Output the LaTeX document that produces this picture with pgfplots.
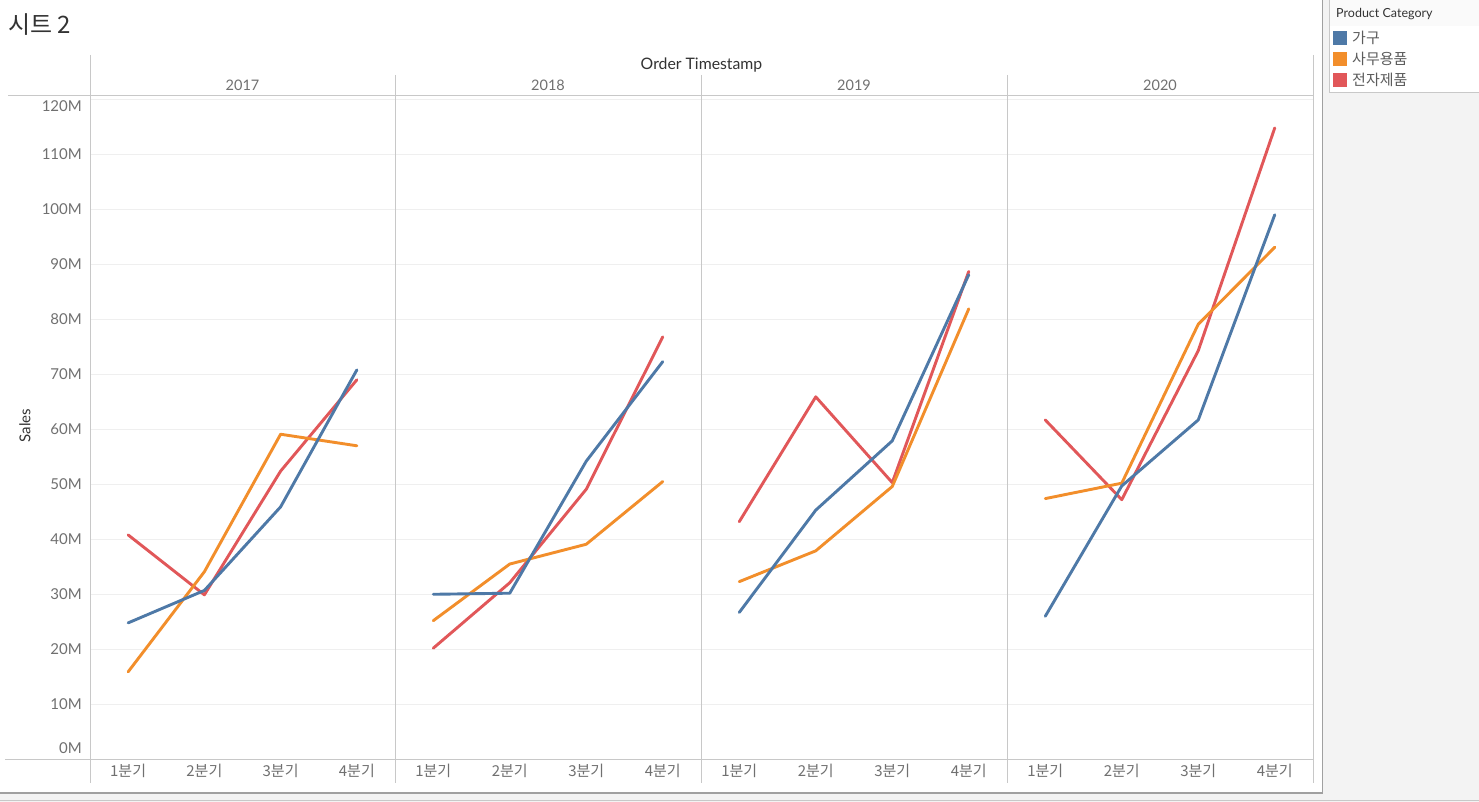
\documentclass[border=0pt]{standalone}
\usepackage{pgfplots}
\pgfplotsset{compat=1.18}
\usepackage{pgfplotstable}
\usepackage{fontspec}
\setmainfont{Lato}[Numbers=Monospaced]
\newfontfamily\kr{Noto Sans CJK KR}
\definecolor{cfurn}{HTML}{4E79A7}
\definecolor{coff}{HTML}{F28E2B}
\definecolor{celec}{HTML}{E15759}
\definecolor{gridc}{HTML}{EFEFEF}
\definecolor{linec}{HTML}{C8C8C8}
\definecolor{tickc}{HTML}{707070}
\definecolor{darkc}{HTML}{333333}
\definecolor{bgc}{HTML}{F3F3F3}
\definecolor{legbg}{HTML}{FAFAFA}

% Sales in millions, x = quarter position
\pgfplotstableread{
q furn office elec
0.5 24.8 15.9 40.8
1.5 30.7 34.1 29.9
2.5 45.9 59.1 52.4
3.5 70.8 57.0 69.0
}\tA
\pgfplotstableread{
q furn office elec
0.5 30.0 25.2 20.2
1.5 30.2 35.5 32.1
2.5 54.2 39.1 49.1
3.5 72.3 50.5 76.8
}\tB
\pgfplotstableread{
q furn office elec
0.5 26.7 32.3 43.2
1.5 45.3 37.9 65.9
2.5 57.9 49.6 50.3
3.5 88.1 81.9 88.7
}\tC
\pgfplotstableread{
q furn office elec
0.5 26.0 47.4 61.7
1.5 49.7 50.2 47.2
2.5 61.7 79.1 74.3
3.5 99.0 93.1 114.8
}\tD

\pgfplotsset{
  panel/.style={
    scale only axis, height=660pt, width=306pt,
    anchor=south west,
    xmin=0, xmax=4, ymin=0, ymax=120,
    axis line style={draw=none},
    ytick={0,10,...,120},
    yticklabels={},
    ymajorgrids,
    major grid style={draw=gridc, line width=0.9pt},
    xtick={0.5,1.5,2.5,3.5},
    xticklabels={1분기,2분기,3분기,4분기},
    xticklabel style={font=\kr\fontsize{15}{17}\selectfont, text=tickc, anchor=center, yshift=-12pt},
    tick style={draw=none},
    clip=false,
  },
  sline/.style={line width=2.9pt, line join=round, line cap=round},
}

\begin{document}
\begin{tikzpicture}[x=1pt,y=1pt]
\path[use as bounding box] (0,0) rectangle (1479,802);
\fill[bgc] (0,0) rectangle (1479,802);
\fill[white] (0,9) rectangle (1322.5,802);
\draw[color=linec!80!black, line width=1.2pt] (1322.5,802) -- (1322.5,9) -- (0,9);
\draw[color=linec, line width=0.8pt] (0,2) -- (1479,2);

% legend
\fill[white] (1329.5,709.5) rectangle (1480,803);
\fill[legbg] (1330,776) rectangle (1480,803);
\draw[color=linec, line width=0.8pt] (1329.5,803) -- (1329.5,709.5) -- (1480,709.5);
\node[anchor=west, inner sep=0pt, text=darkc, font=\fontsize{12.5}{14}\selectfont] at (1336,788) {Product Category};
\fill[cfurn] (1333.3,757.3) rectangle (1346.7,770.7);
\fill[coff]  (1333.3,736.3) rectangle (1346.7,749.7);
\fill[celec] (1333.3,715.3) rectangle (1346.7,728.7);
\node[anchor=west, inner sep=0pt, text=darkc!80, font=\kr\fontsize{15}{17}\selectfont] at (1352,764) {가구};
\node[anchor=west, inner sep=0pt, text=darkc!80, font=\kr\fontsize{15}{17}\selectfont] at (1352,743) {사무용품};
\node[anchor=west, inner sep=0pt, text=darkc!80, font=\kr\fontsize{15}{17}\selectfont] at (1352,722) {전자제품};

% titles
\node[anchor=west, inner sep=0pt, text=darkc, font=\kr\fontsize{24}{26}\selectfont] at (8,777) {시트 2};
\node[inner sep=0pt, text=darkc, font=\fontsize{15.8}{18}\selectfont] at (701.5,736.5) {Order Timestamp};
\node[inner sep=0pt, text=tickc, font=\fontsize{14.5}{16}\selectfont] at (242.5,717) {2017};
\node[inner sep=0pt, text=tickc, font=\fontsize{14.5}{16}\selectfont] at (548,717) {2018};
\node[inner sep=0pt, text=tickc, font=\fontsize{14.5}{16}\selectfont] at (854,717) {2019};
\node[inner sep=0pt, text=tickc, font=\fontsize{14.5}{16}\selectfont] at (1160,717) {2020};
\node[inner sep=0pt, text=darkc, rotate=90, font=\fontsize{15}{17}\selectfont] at (25,376.5) {Sales};

\begin{axis}[panel, at={(90pt,42.7pt)}, width=305pt,
  yticklabels={{},10M,20M,30M,40M,50M,60M,70M,80M,90M,100M,110M,{}},
  yticklabel style={font=\fontsize{15}{17}\selectfont, text=tickc, anchor=east, inner sep=0pt, xshift=-8pt},
  extra y ticks={2.05,118.8},
  extra y tick labels={0M,120M},
  extra y tick style={grid=none},
  /pgf/number format/assume math mode=true]
\addplot[celec, sline] table[x=q, y=elec] {\tA};
\addplot[coff, sline] table[x=q, y=office] {\tA};
\addplot[cfurn, sline] table[x=q, y=furn] {\tA};
\end{axis}
\begin{axis}[panel, at={(395pt,42.7pt)}]
\addplot[celec, sline] table[x=q, y=elec] {\tB};
\addplot[coff, sline] table[x=q, y=office] {\tB};
\addplot[cfurn, sline] table[x=q, y=furn] {\tB};
\end{axis}
\begin{axis}[panel, at={(701pt,42.7pt)}]
\addplot[celec, sline] table[x=q, y=elec] {\tC};
\addplot[coff, sline] table[x=q, y=office] {\tC};
\addplot[cfurn, sline] table[x=q, y=furn] {\tC};
\end{axis}
\begin{axis}[panel, at={(1007pt,42.7pt)}]
\addplot[celec, sline] table[x=q, y=elec] {\tD};
\addplot[coff, sline] table[x=q, y=office] {\tD};
\addplot[cfurn, sline] table[x=q, y=furn] {\tD};
\end{axis}

% frame lines
\draw[color=linec, line width=1pt] (8,706.5) -- (1313,706.5);
\draw[color=linec, line width=1pt] (5,42.7) -- (1313,42.7);
\draw[color=linec, line width=1pt] (90,747) -- (90,19);
\draw[color=linec, line width=1pt] (1313,747) -- (1313,19);
\draw[color=linec, line width=1pt] (395,727) -- (395,19);
\draw[color=linec, line width=1pt] (701,727) -- (701,19);
\draw[color=linec, line width=1pt] (1007,727) -- (1007,19);
\end{tikzpicture}
\end{document}
